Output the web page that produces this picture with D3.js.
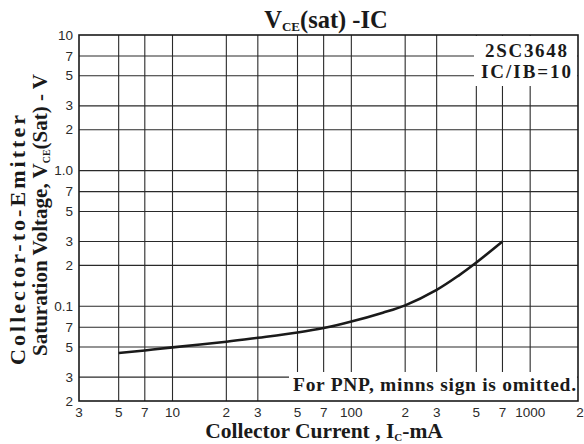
<!DOCTYPE html>
<html><head><meta charset="utf-8">
<script src="https://cdn.jsdelivr.net/npm/d3@7"></script>
<style>body{margin:0;background:#fff}svg{display:block}</style>
</head><body>
<script>
// ---- data ----
const currentMA = [5, 7, 10, 20, 30, 50, 70, 100, 150, 200, 300, 400, 500, 700];
const vceSat    = [0.0452, 0.0472, 0.0497, 0.0547, 0.0585, 0.064, 0.069, 0.077, 0.0895, 0.1015, 0.132, 0.169, 0.210, 0.300];
const xTickValues = [3, 5, 7, 10, 20, 30, 50, 70, 100, 200, 300, 500, 700, 1000, 2000];
const xTickLabels = ["3","5","7","10","2","3","5","7","100","2","3","5","7","1000","2"];
const yTickValues = [0.02, 0.03, 0.05, 0.07, 0.1, 0.2, 0.3, 0.5, 0.7, 1, 2, 3, 5, 7, 10];
const yTickLabels = ["2","3","5","7","0.1","2","3","5","7","1.0","2","3","5","7","10"];
const xGrid = [5, 7, 10, 20, 30, 50, 70, 100, 200, 300, 500, 700, 1000];
const yGrid = [0.03, 0.05, 0.07, 0.1, 0.2, 0.3, 0.5, 0.7, 1, 2, 3, 5, 7];

const W = 584, H = 444;
const frame = {left: 79, right: 578, top: 35, bottom: 401};
const x = d3.scaleLog().domain([3, 2000]).range([79, 584]);
const y = d3.scaleLog().domain([0.02, 10]).range([401, 35]);

const svg = d3.select("body").append("svg").attr("width", W).attr("height", H);
const serif = "'Liberation Serif', 'Times New Roman', serif";
const sans = "'Liberation Sans', Arial, sans-serif";
const ink = "#1a1a1a";

// grid
const g = svg.append("g").attr("stroke", "#2a2a2a").attr("stroke-width", 1.1);
g.selectAll("line.v").data(xGrid).join("line").attr("class","v")
  .attr("x1", d => x(d)).attr("x2", d => x(d)).attr("y1", frame.top).attr("y2", frame.bottom);
g.selectAll("line.h").data(yGrid).join("line").attr("class","h")
  .attr("x1", frame.left).attr("x2", frame.right).attr("y1", d => y(d)).attr("y2", d => y(d));

// white masks for annotations
svg.append("rect").attr("x", 474).attr("y", frame.top + 1).attr("width", frame.right - 474 - 1).attr("height", 50).attr("fill", "#fff");
svg.append("rect").attr("x", 289).attr("y", 372).attr("width", frame.right - 289 - 1).attr("height", frame.bottom - 372).attr("fill", "#fff");

// curve
const line = d3.line().x(d => x(d[0])).y(d => y(d[1])).curve(d3.curveCatmullRom.alpha(0.5));
svg.append("path").datum(currentMA.map((c, i) => [c, vceSat[i]]))
  .attr("d", line).attr("fill", "none").attr("stroke", ink).attr("stroke-width", 2.6);

// frame
svg.append("rect").attr("x", frame.left).attr("y", frame.top)
  .attr("width", frame.right - frame.left).attr("height", frame.bottom - frame.top)
  .attr("fill", "none").attr("stroke", ink).attr("stroke-width", 1.6);

// tick labels
svg.append("g").selectAll("text").data(xTickValues).join("text")
  .attr("x", d => Math.min(x(d), frame.right + 2)).attr("y", 417)
  .attr("text-anchor", "middle").attr("font-family", sans).attr("font-size", 13.5).attr("fill", "#2a2a2a")
  .text((d, i) => xTickLabels[i]);
svg.append("g").selectAll("text").data(yTickValues).join("text")
  .attr("x", 73).attr("y", d => y(d) + 4.5)
  .attr("text-anchor", "end").attr("font-family", sans).attr("font-size", 13.5).attr("fill", "#2a2a2a")
  .text((d, i) => yTickLabels[i]);

// title
const t = svg.append("text").attr("x", 326).attr("y", 28).attr("text-anchor", "middle")
  .attr("font-family", serif).attr("font-weight", "bold").attr("font-size", 24.5).attr("fill", ink);
t.append("tspan").text("V");
t.append("tspan").attr("font-size", 13).attr("dy", 3).text("CE");
t.append("tspan").attr("dy", -3).text("(sat) -IC");

// x axis title
const xt = svg.append("text").attr("x", 324).attr("y", 438).attr("text-anchor", "middle")
  .attr("font-family", serif).attr("font-weight", "bold").attr("font-size", 21.5).attr("fill", ink);
xt.append("tspan").text("Collector Current , I");
xt.append("tspan").attr("font-size", 11).attr("dy", 3).text("C");
xt.append("tspan").attr("dy", -3).text("-mA");

// y axis title
svg.append("text").attr("transform", "translate(25,240) rotate(-90)").attr("text-anchor", "middle")
  .attr("font-family", serif).attr("font-weight", "bold").attr("font-size", 22).attr("fill", ink)
  .attr("textLength", 250).attr("lengthAdjust", "spacing")
  .text("Collector-to-Emitter");
const yt = svg.append("text").attr("transform", "translate(47,215) rotate(-90)").attr("text-anchor", "middle")
  .attr("font-family", serif).attr("font-weight", "bold").attr("font-size", 21).attr("fill", ink);
yt.append("tspan").text("Saturation Voltage, V");
yt.append("tspan").attr("font-size", 10).attr("dy", 3).text("CE");
yt.append("tspan").attr("dy", -3).text("(Sat) - V");

// annotations
svg.append("text").attr("x", 485).attr("y", 57)
  .attr("font-family", serif).attr("font-weight", "bold").attr("font-size", 19).attr("fill", ink)
  .attr("textLength", 82).attr("lengthAdjust", "spacing").text("2SC3648");
svg.append("text").attr("x", 481).attr("y", 78)
  .attr("font-family", serif).attr("font-weight", "bold").attr("font-size", 19).attr("fill", ink)
  .attr("textLength", 90).attr("lengthAdjust", "spacing").text("IC/IB=10");
svg.append("text").attr("x", 293).attr("y", 391)
  .attr("font-family", serif).attr("font-weight", "bold").attr("font-size", 19.5).attr("fill", ink)
  .attr("textLength", 283).attr("lengthAdjust", "spacing")
  .text("For PNP, minns sign is omitted.");
</script>
</body></html>
